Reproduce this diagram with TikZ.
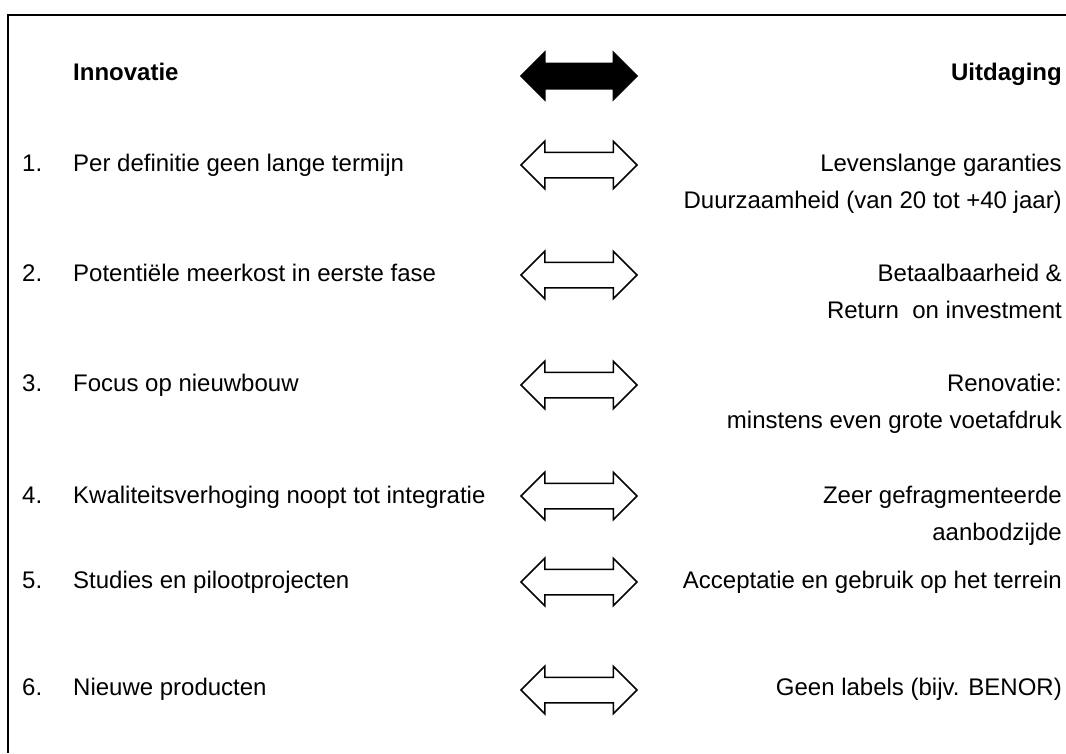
\documentclass[tikz,border=0pt]{standalone}
\usepackage{fontspec}
\setmainfont{Liberation Sans}
\usetikzlibrary{shapes.arrows}

\begin{document}
\begin{tikzpicture}[x=1pt, y=-1pt, font=\fontsize{24}{29}\selectfont,
    pijl/.style = {draw, double arrow, double arrow head extend=11pt, minimum height=116pt,
      minimum width=46pt, inner xsep=0pt, inner ysep=12pt, text height=0pt, text depth=0pt,
      line width=1.5pt},
    links/.style = {anchor=base west, inner sep=0pt},
    rechts/.style = {anchor=base east, inner sep=0pt}]
    \useasboundingbox (0,0) rectangle (1066,753);
    \draw[line width=2pt] (1066,15) -- (8,15) -- (8,753);

    \node[links, font=\fontsize{24}{29}\selectfont\bfseries](h1) at (73,80){Innovatie};
    \node[rechts, font=\fontsize{24}{29}\selectfont\bfseries](h2) at (1062,80){Uitdaging};
    \node[pijl, fill=black](p0) at (579,76){};

    \node[links](n1) at (22,171){1.};
    \node[links](i1) at (73,171){Per definitie geen lange termijn};
    \node[pijl](p1) at (579,165){};
    \node[rechts](u1) at (1062,171){Levenslange garanties};
    \node[rechts](v1) at (1062,208){Duurzaamheid (van 20 tot +40 jaar)};

    \node[links](n2) at (22,281){2.};
    \node[links](i2) at (73,281){Potentiële meerkost in eerste fase};
    \node[pijl](p2) at (579,275){};
    \node[rechts](u2) at (1062,281){Betaalbaarheid \&};
    \node[rechts](v2) at (1062,318){Return\ \ on investment};

    \node[links](n3) at (22,391){3.};
    \node[links](i3) at (73,391){Focus op nieuwbouw};
    \node[pijl](p3) at (579,385){};
    \node[rechts](u3) at (1062,391){Renovatie:};
    \node[rechts](v3) at (1062,428){minstens even grote voetafdruk};

    \node[links](n4) at (22,503){4.};
    \node[links](i4) at (73,503){Kwaliteitsverhoging noopt tot integratie};
    \node[pijl](p4) at (579,496){};
    \node[rechts](u4) at (1062,503){Zeer gefragmenteerde};
    \node[rechts](v4) at (1062,540){aanbodzijde};

    \node[links](n5) at (22,588){5.};
    \node[links](i5) at (73,588){Studies en pilootprojecten};
    \node[pijl](p5) at (579,582){};
    \node[rechts](u5) at (1062,588){Acceptatie en gebruik op het terrein};

    \node[links](n6) at (22,695){6.};
    \node[links](i6) at (73,695){Nieuwe producten};
    \node[pijl](p6) at (579,690){};
    \node[rechts](u6) at (1062,695){Geen labels (bijv. BENOR)};
\end{tikzpicture}
\end{document}
